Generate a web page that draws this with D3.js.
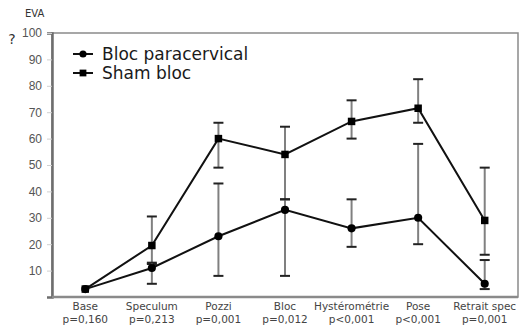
<!DOCTYPE html>
<html>
<head>
<meta charset="utf-8">
<script src="https://cdn.jsdelivr.net/npm/d3@7"></script>
<style>
  body { margin: 0; background: #fff; }
  svg { display: block; font-family: "DejaVu Sans", sans-serif; }
</style>
</head>
<body>
<svg id="chart" width="521" height="328"></svg>
<script>
const categories = ['Base', 'Speculum', 'Pozzi', 'Bloc', 'Hystérométrie', 'Pose', 'Retrait spec'];
const pValues = ['p=0,160', 'p=0,213', 'p=0,001', 'p=0,012', 'p<0,001', 'p<0,001', 'p=0,001'];

// Bloc paracervical: value, lower, upper
const blocValues = [3, 11, 23, 33, 26, 30, 5];
const blocLow = [3, 5, 8, 8, 19, 20, 3];
const blocHigh = [3, 13, 43, 37, 37, 58, 14];

// Sham bloc
const shamValues = [3, 19.5, 60, 54, 66.5, 71.5, 29];
const shamLow = [3, 12.5, 49, 37, 60, 66, 16];
const shamHigh = [3, 30.5, 66, 64.5, 74.5, 82.5, 49];

const yTicks = [10, 20, 30, 40, 50, 60, 70, 80, 90, 100];

const svg = d3.select('#chart');
const plotL = 52, plotR = 518, plotT = 33, plotB = 297;

const x = d3.scaleBand().domain(categories).range([plotL, plotR]);
const y = d3.scaleLinear().domain([0, 100]).range([plotB, plotT]);
const cx = d => x(d) + x.bandwidth() / 2;

// frame
svg.append('rect')
  .attr('x', plotL).attr('y', plotT)
  .attr('width', plotR - plotL).attr('height', plotB - plotT)
  .attr('fill', 'none').attr('stroke', '#8a8a8a').attr('stroke-width', 1.5);

// y axis
const yAxis = svg.append('g')
  .attr('transform', `translate(${plotL},0)`)
  .call(d3.axisLeft(y).tickValues(yTicks).tickSize(5).tickPadding(5));
yAxis.select('.domain').attr('stroke', '#6e6e6e').attr('stroke-width', 2.5);
yAxis.selectAll('.tick line').attr('stroke', '#d0d0d0');
yAxis.selectAll('.tick text').attr('font-size', 12).attr('fill', '#555');

// bottom line
svg.append('line')
  .attr('x1', plotL).attr('x2', plotR).attr('y1', plotB).attr('y2', plotB)
  .attr('stroke', '#8a8a8a').attr('stroke-width', 2.5);

// x labels
const xl = svg.append('g');
categories.forEach((c, i) => {
  const t = xl.append('text')
    .attr('x', cx(c)).attr('text-anchor', 'middle')
    .attr('font-size', 10.5).attr('fill', '#444');
  t.append('tspan').attr('x', cx(c)).attr('y', 310).text(c);
  t.append('tspan').attr('x', cx(c)).attr('y', 323).text(pValues[i]);
});

svg.append('text').attr('x', 25).attr('y', 17)
  .attr('font-size', 10).attr('fill', '#333').text('EVA');
svg.append('text').attr('x', 12).attr('y', 44)
  .attr('font-size', 14).attr('fill', '#333').attr('text-anchor', 'middle').text('?');

// error bars
function errorBars(low, high) {
  const g = svg.append('g');
  categories.forEach((c, i) => {
    if (low[i] === high[i]) return;
    g.append('line')
      .attr('x1', cx(c)).attr('x2', cx(c))
      .attr('y1', y(low[i])).attr('y2', y(high[i]))
      .attr('stroke', '#808080').attr('stroke-width', 2);
    [low[i], high[i]].forEach(v => {
      g.append('line')
        .attr('x1', cx(c) - 5).attr('x2', cx(c) + 5)
        .attr('y1', y(v)).attr('y2', y(v))
        .attr('stroke', '#222').attr('stroke-width', 2);
    });
  });
}
errorBars(shamLow, shamHigh);
errorBars(blocLow, blocHigh);

const line = d3.line().x((d, i) => cx(categories[i])).y(d => y(d));

function series(values, shape) {
  svg.append('path').datum(values)
    .attr('d', line).attr('fill', 'none')
    .attr('stroke', '#111').attr('stroke-width', 2);
  const sym = d3.symbol().type(shape).size(shape === d3.symbolSquare ? 56 : 52);
  svg.append('g').selectAll('path').data(values).enter().append('path')
    .attr('transform', (d, i) => `translate(${cx(categories[i])},${y(d)})`)
    .attr('d', sym).attr('fill', '#000');
}
series(shamValues, d3.symbolSquare);
series(blocValues, d3.symbolCircle);

// legend
const legend = [
  { name: 'Bloc paracervical', shape: d3.symbolCircle, size: 40 },
  { name: 'Sham bloc', shape: d3.symbolSquare, size: 46 }
];
legend.forEach((l, i) => {
  const ly = 54 + i * 19;
  svg.append('line').attr('x1', 73).attr('x2', 93).attr('y1', ly).attr('y2', ly)
    .attr('stroke', '#111').attr('stroke-width', 2);
  svg.append('path').attr('transform', `translate(83,${ly})`)
    .attr('d', d3.symbol().type(l.shape).size(l.size)).attr('fill', '#000');
  svg.append('text').attr('x', 102).attr('y', ly + 6)
    .attr('font-size', 17).attr('fill', '#1a1a1a').text(l.name);
});
</script>
</body>
</html>
